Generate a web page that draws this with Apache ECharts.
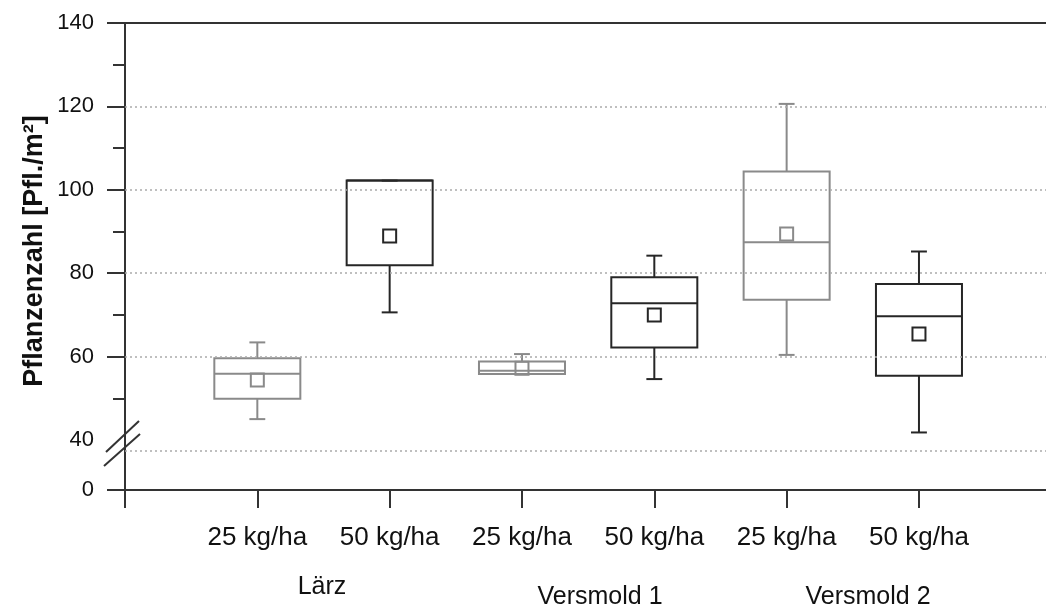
<!DOCTYPE html>
<html>
<head>
<meta charset="utf-8">
<script src="https://cdn.jsdelivr.net/npm/echarts@6/dist/echarts.min.js"></script>
<style>
html, body { margin: 0; padding: 0; background: #fff; }
#main { width: 1046px; height: 606px; }
</style>
</head>
<body>
<div id="main"></div>
<script>
var categories = ['25 kg/ha', '50 kg/ha', '25 kg/ha', '50 kg/ha', '25 kg/ha', '50 kg/ha'];
var groups = ['Lärz', 'Versmold 1', 'Versmold 2'];
var minVals    = [45.0, 70.6, 55.8, 54.6, 60.4, 41.8];
var q1Vals     = [49.9, 81.9, 55.8, 62.2, 73.6, 55.4];
var medianVals = [55.9, 102.2, 56.6, 72.8, 87.4, 69.7];
var q3Vals     = [59.6, 102.2, 58.8, 79.0, 104.4, 77.4];
var maxVals    = [63.4, 102.2, 60.6, 84.2, 120.6, 85.2];
var meanVals   = [54.4, 88.9, 57.2, 70.0, 89.4, 65.4];

// broken axis: the "0" tick sits where 28 would be on the upper scale
var yTickValues = [28, 40, 60, 80, 100, 120, 140];
var yTickLabels = ['0', '40', '60', '80', '100', '120', '140'];
var yMajorTicks = [28, 60, 80, 100, 120, 140];
var yMinorTicks = [50, 70, 90, 110, 130];
var xTickValues = [0, 1, 2, 3, 4, 5, 6];
var xLabelValues = [1, 2, 3, 4, 5, 6];
var gridValues  = [37.4, 60, 80, 100, 120];

var font = 'Liberation Sans, Arial, sans-serif';
var axisColor = '#333';

var boxData = [];
for (var i = 0; i < categories.length; i++) {
	boxData.push([i + 1, minVals[i], q1Vals[i], medianVals[i], q3Vals[i], maxVals[i], meanVals[i]]);
}

function renderBox(params, api) {
	var x = api.value(0);
	var unit = api.size([1, 0])[0];
	var bw = unit * 0.65, cw = unit * 0.12, ms = 13;
	var pMin = api.coord([x, api.value(1)]);
	var pQ1 = api.coord([x, api.value(2)]);
	var pMed = api.coord([x, api.value(3)]);
	var pQ3 = api.coord([x, api.value(4)]);
	var pMax = api.coord([x, api.value(5)]);
	var pMean = api.coord([x, api.value(6)]);
	var color = params.dataIndex % 2 === 0 ? '#8a8a8a' : '#262626';
	var st = { stroke: color, lineWidth: 2, fill: 'none' };
	var cx = pMin[0];
	return {
		type: 'group',
		children: [
			{ type: 'line', shape: { x1: cx, y1: pQ3[1], x2: cx, y2: pMax[1] }, style: st },
			{ type: 'line', shape: { x1: cx - cw / 2, y1: pMax[1], x2: cx + cw / 2, y2: pMax[1] }, style: st },
			{ type: 'line', shape: { x1: cx, y1: pQ1[1], x2: cx, y2: pMin[1] }, style: st },
			{ type: 'line', shape: { x1: cx - cw / 2, y1: pMin[1], x2: cx + cw / 2, y2: pMin[1] }, style: st },
			{ type: 'rect', shape: { x: cx - bw / 2, y: pQ3[1], width: bw, height: pQ1[1] - pQ3[1] }, style: st },
			{ type: 'line', shape: { x1: cx - bw / 2, y1: pMed[1], x2: cx + bw / 2, y2: pMed[1] }, style: st },
			{ type: 'rect', shape: { x: cx - ms / 2, y: pMean[1] - ms / 2, width: ms, height: ms }, style: st }
		]
	};
}

var gridLines = gridValues.map(function (v) { return { yAxis: v }; });

var option = {
	animation: false,
	grid: { left: 125, right: 0, top: 23, bottom: 116 },
	xAxis: [
		{
			type: 'value', min: 0, max: 6.96,
			axisLine: { onZero: false, lineStyle: { color: axisColor, width: 2 } },
			axisTick: { show: true, length: 18, customValues: xTickValues, lineStyle: { color: axisColor, width: 2 } },
			axisLabel: {
				margin: 35, fontSize: 26, color: '#111', fontFamily: font,
				customValues: xLabelValues,
				formatter: function (v) { return (v >= 1 && v <= categories.length) ? categories[v - 1] : ''; }
			},
			splitLine: { show: false }
		},
		{
			type: 'value', min: 0, max: 6.96, position: 'top',
			axisLine: { onZero: false, lineStyle: { color: axisColor, width: 2 } },
			axisTick: { show: false }, axisLabel: { show: false }, splitLine: { show: false }
		}
	],
	yAxis: [
		{
			type: 'value', min: 28, max: 140,
			axisLine: { onZero: false, lineStyle: { color: axisColor, width: 2 } },
			axisTick: { show: true, length: 18, customValues: yMajorTicks, lineStyle: { color: axisColor, width: 2 } },
			axisLabel: {
				margin: 31, fontSize: 22, color: '#111', fontFamily: font,
				customValues: yTickValues,
				formatter: function (v) {
					var k = yTickValues.indexOf(v);
					return k >= 0 ? yTickLabels[k] : '';
				}
			},
			splitLine: { show: false }
		},
		{
			type: 'value', min: 28, max: 140, position: 'left', offset: 0,
			axisLine: { show: false },
			axisTick: { show: true, length: 12, customValues: yMinorTicks, lineStyle: { color: axisColor, width: 2 } },
			axisLabel: { show: false }, splitLine: { show: false }
		}
	],
	series: [
		{
			type: 'custom',
			renderItem: renderBox,
			encode: { x: 0, y: [1, 2, 3, 4, 5, 6] },
			data: boxData,
			z: 3,
			markLine: {
				silent: true, symbol: ['none', 'none'], label: { show: false },
				lineStyle: { type: [2, 3], color: '#aaa', width: 1.5 },
				data: gridLines
			}
		}
	],
	graphic: [
		{ type: 'line', shape: { x1: 106, y1: 452, x2: 139, y2: 421 }, style: { stroke: axisColor, lineWidth: 2 } },
		{ type: 'line', shape: { x1: 104, y1: 466, x2: 140, y2: 434 }, style: { stroke: axisColor, lineWidth: 2 } },
		{ type: 'text', x: 35, y: 251, rotation: Math.PI / 2, style: { text: 'Pflanzenzahl [Pfl./m²]', font: 'bold 27px ' + font, fill: '#111', align: 'center', verticalAlign: 'middle' } },
		{ type: 'text', x: 322, y: 587, style: { text: groups[0], font: '25px ' + font, fill: '#111', align: 'center', verticalAlign: 'middle' } },
		{ type: 'text', x: 600, y: 597, style: { text: groups[1], font: '25px ' + font, fill: '#111', align: 'center', verticalAlign: 'middle' } },
		{ type: 'text', x: 868, y: 597, style: { text: groups[2], font: '25px ' + font, fill: '#111', align: 'center', verticalAlign: 'middle' } }
	]
};

var chart = echarts.init(document.getElementById('main'));
chart.setOption(option);
</script>
</body>
</html>
